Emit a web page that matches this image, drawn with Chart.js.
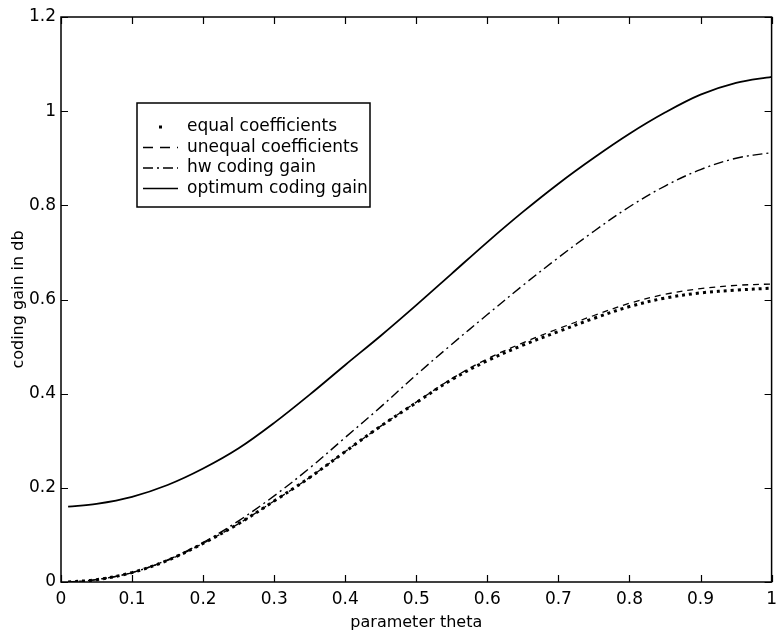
<!DOCTYPE html>
<html>
<head>
<meta charset="utf-8">
<script src="https://cdn.jsdelivr.net/npm/chart.js@4/dist/chart.umd.min.js"></script>
<style>
  html, body { margin: 0; padding: 0; background: #fff; }
  #wrap { width: 784px; height: 632px; }
</style>
</head>
<body>
<div id="wrap"><canvas id="gainChart" width="784" height="632"></canvas></div>
<script>
// values
const theta = [0.01, 0.05, 0.10, 0.15, 0.20, 0.25, 0.30, 0.35, 0.40, 0.45, 0.50,
               0.55, 0.60, 0.65, 0.70, 0.75, 0.80, 0.85, 0.90, 0.95, 1.00];
const equalCoef = [0.000, 0.005, 0.020, 0.046, 0.082, 0.124, 0.172, 0.222, 0.277, 0.331, 0.381,
                   0.430, 0.470, 0.503, 0.532, 0.560, 0.585, 0.603, 0.614, 0.620, 0.624];
const unequalCoef = [0.000, 0.005, 0.020, 0.046, 0.082, 0.124, 0.172, 0.222, 0.277, 0.331, 0.382,
                     0.432, 0.474, 0.508, 0.538, 0.566, 0.592, 0.611, 0.623, 0.630, 0.633];
const hwGain = [0.000, 0.005, 0.020, 0.047, 0.084, 0.130, 0.183, 0.242, 0.307, 0.372, 0.440,
                0.505, 0.568, 0.630, 0.689, 0.745, 0.797, 0.841, 0.876, 0.900, 0.912];
const optimumGain = [0.160, 0.166, 0.181, 0.206, 0.241, 0.284, 0.338, 0.398, 0.461, 0.523, 0.588,
                     0.655, 0.722, 0.786, 0.846, 0.901, 0.952, 0.997, 1.035, 1.060, 1.073];

const seriesNames = ['equal coefficients', 'unequal coefficients', 'hw coding gain', 'optimum coding gain'];
const xTickStep = 0.1;
const yTickStep = 0.2;

const FONT = '"DejaVu Sans", "Liberation Sans", sans-serif';

function pts(arr) {
    return theta.map((t, i) => ({ x: t, y: arr[i] }));
}

// box round the plot with inward ticks on all four sides (matlab look)
const framePlugin = {
    id: 'frame',
    afterDraw(chart) {
        const { ctx, chartArea: a, scales } = chart;
        ctx.save();
        ctx.strokeStyle = '#000';
        ctx.lineWidth = 1.5;
        ctx.strokeRect(a.left, a.top, a.right - a.left, a.bottom - a.top);
        ctx.lineWidth = 1.2;
        const len = 7;
        ctx.beginPath();
        scales.x.ticks.forEach(t => {
            const px = Math.round(scales.x.getPixelForValue(t.value)) + 0.5;
            ctx.moveTo(px, a.bottom); ctx.lineTo(px, a.bottom - len);
            ctx.moveTo(px, a.top); ctx.lineTo(px, a.top + len);
        });
        scales.y.ticks.forEach(t => {
            const py = Math.round(scales.y.getPixelForValue(t.value)) + 0.5;
            ctx.moveTo(a.left, py); ctx.lineTo(a.left + len, py);
            ctx.moveTo(a.right, py); ctx.lineTo(a.right - len, py);
        });
        ctx.stroke();
        ctx.restore();
    }
};

// legend box drawn inside the axes, top left
const legendBoxPlugin = {
    id: 'legendBox',
    afterDraw(chart) {
        const ctx = chart.ctx;
        const a = chart.chartArea;
        const bx = a.left + 76, by = a.top + 86, bw = 233, bh = 104;
        ctx.save();
        ctx.fillStyle = '#fff';
        ctx.fillRect(bx, by, bw, bh);
        ctx.strokeStyle = '#000';
        ctx.lineWidth = 1.5;
        ctx.strokeRect(bx, by, bw, bh);
        ctx.font = '17px ' + FONT;
        ctx.textBaseline = 'middle';
        chart.data.datasets.forEach((ds, i) => {
            const y = by + 24 + i * 20.5;
            ctx.strokeStyle = ds.borderColor;
            ctx.lineWidth = ds.legendWidth;
            ctx.setLineDash(ds.legendDash);
            ctx.lineCap = 'butt';
            ctx.beginPath();
            if (ds.legendDot) {
                ctx.fillStyle = '#000';
                ctx.fillRect(bx + 22, y - 1.5, 3, 3);
            } else {
                ctx.moveTo(bx + 6, y); ctx.lineTo(bx + 41, y);
                ctx.stroke();
            }
            ctx.setLineDash([]);
            ctx.fillStyle = '#000';
            ctx.fillText(ds.label, bx + 50, y);
        });
        ctx.restore();
    }
};

const ctx = document.getElementById('gainChart').getContext('2d');
new Chart(ctx, {
    type: 'line',
    data: {
        datasets: [
            { label: seriesNames[0], data: pts(equalCoef), borderColor: '#000', borderWidth: 3,
              borderDash: [3, 4], legendDash: [], legendWidth: 3, legendDot: true },
            { label: seriesNames[1], data: pts(unequalCoef), borderColor: '#000', borderWidth: 1.3,
              borderDash: [6, 5], legendDash: [10, 7], legendWidth: 1.3 },
            { label: seriesNames[2], data: pts(hwGain), borderColor: '#000', borderWidth: 1.4,
              borderDash: [10, 4, 2, 4], legendDash: [10, 4, 2, 4], legendWidth: 1.3 },
            { label: seriesNames[3], data: pts(optimumGain), borderColor: '#000', borderWidth: 1.8,
              borderDash: [], legendDash: [], legendWidth: 1.3 }
        ]
    },
    options: {
        responsive: false,
        animation: false,
        parsing: false,
        layout: { autoPadding: false, padding: { top: 17, right: 6, left: 0, bottom: 0 } },
        elements: {
            point: { radius: 0 },
            line: { tension: 0.35, fill: false }
        },
        plugins: {
            legend: { display: false },
            tooltip: { enabled: false }
        },
        scales: {
            x: {
                type: 'linear', min: 0, max: 1,
                afterFit: s => { s.height = 50; },
                grid: { display: false, drawTicks: false },
                border: { display: false },
                ticks: {
                    stepSize: xTickStep, padding: 7, color: '#000', maxRotation: 0,
                    font: { family: FONT, size: 17 },
                    callback: v => String(+v.toFixed(1))
                },
                title: {
                    display: true, text: 'parameter theta', color: '#000',
                    font: { family: FONT, size: 16 }, padding: { top: 0, bottom: 0 }
                }
            },
            y: {
                type: 'linear', min: 0, max: 1.2,
                afterFit: s => { s.width = 61; },
                grid: { display: false, drawTicks: false },
                border: { display: false },
                ticks: {
                    stepSize: yTickStep, padding: 5, color: '#000',
                    font: { family: FONT, size: 17 },
                    callback: v => String(+v.toFixed(1))
                },
                title: {
                    display: true, text: 'coding gain in db', color: '#000',
                    font: { family: FONT, size: 16 }, padding: { top: 9, bottom: 0 }
                }
            }
        }
    },
    plugins: [framePlugin, legendBoxPlugin]
});
</script>
</body>
</html>
